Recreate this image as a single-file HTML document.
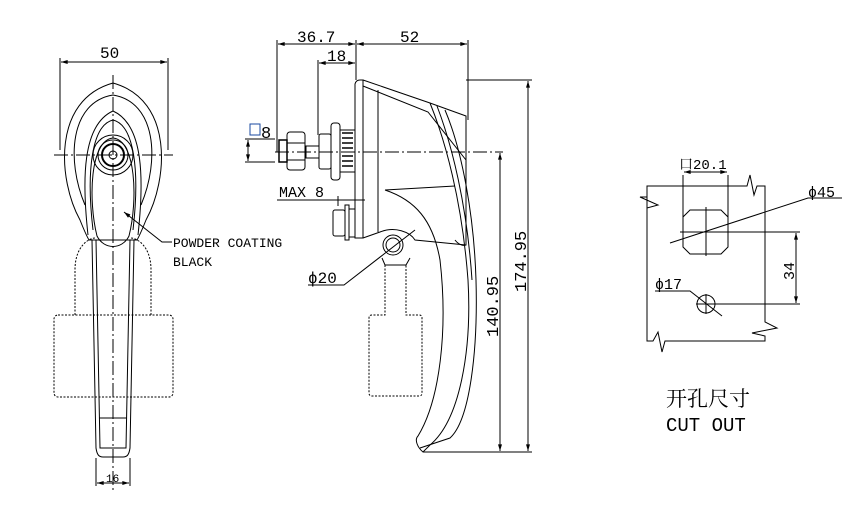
<!DOCTYPE html>
<html><head><meta charset="utf-8"><style>
html,body{margin:0;padding:0;background:#fff}
svg{display:block}
text{font-family:"Liberation Mono","Noto Serif CJK SC",monospace;fill:#000}
</style></head><body>
<svg width="849" height="505" viewBox="0 0 849 505" xmlns="http://www.w3.org/2000/svg">
<defs><marker id="a" viewBox="0 0 10 6" refX="10" refY="3" markerWidth="8" markerHeight="4" orient="auto-start-reverse"><path d="M0,0L10,3L0,6z" fill="#000"/></marker></defs>
<g fill="none" stroke="#000" stroke-width="1">
<!-- LEFT VIEW -->
<line x1="60" y1="58" x2="60" y2="150"/><line x1="168" y1="58" x2="168" y2="150"/>
<line x1="61" y1="62" x2="167" y2="62" marker-start="url(#a)" marker-end="url(#a)"/>
<path d="M80,220 C58,180 52,100 113,83 C174,100 168,180 146,220 C142,230 140,235 137,240 L89,240 C86,235 84,230 80,220Z"/>
<path d="M85,205 C66,160 70,102 113,95 C156,102 160,160 141,205"/>
<path d="M88,235 C82,180 82,125 113,111 C144,125 144,180 138,235"/>
<path d="M93,230 C86,170 92,125 113,120 C134,125 140,170 133,230"/>
<path d="M97,236 C88,200 90,140 113,138 C136,140 138,200 129,236 C122,250 104,250 97,236Z"/>
<circle cx="113" cy="155" r="20"/><circle cx="113" cy="155" r="15"/><circle cx="113" cy="155" r="11" stroke-width="2"/><circle cx="113" cy="155" r="4"/>
<path d="M92,240 L96,448 C97,455 99,457 103,457 L123,457 C127,457 129,455 130,448 L134,240"/>
<path d="M96,240 L100,448 L126,448 L130,240"/>
<line x1="99" y1="418" x2="127" y2="418"/>
<path d="M75,315 L75,270 C75,245 90,238 95,238 M151,315 L151,270 C151,245 136,238 131,238" stroke-dasharray="2,1.5"/>
<rect x="54" y="315" width="119" height="82" rx="4" stroke-dasharray="2,1.5"/>
<line x1="54" y1="155" x2="173" y2="155" stroke-dasharray="14,3,2,3"/>
<line x1="113" y1="75" x2="113" y2="490" stroke-dasharray="14,3,2,3"/>
<line x1="96" y1="458" x2="96" y2="486"/><line x1="130" y1="458" x2="130" y2="486"/>
<line x1="97" y1="483" x2="129" y2="483" marker-start="url(#a)" marker-end="url(#a)"/>
<path d="M124,212 L162,242 L172,242" marker-start="url(#a)"/>
<!-- MIDDLE VIEW -->
<line x1="277" y1="40" x2="277" y2="152"/><line x1="356" y1="40" x2="356" y2="80"/><line x1="468" y1="40" x2="468" y2="120"/>
<line x1="278" y1="44" x2="355" y2="44" marker-start="url(#a)" marker-end="url(#a)"/>
<line x1="357" y1="44" x2="467" y2="44" marker-start="url(#a)" marker-end="url(#a)"/>
<line x1="318" y1="60" x2="318" y2="135"/>
<line x1="319" y1="63" x2="355" y2="63" marker-start="url(#a)" marker-end="url(#a)"/>
<path d="M355,238 L355,84 Q356,80 360,80 L363,80 L363,238 Z"/>
<path d="M363,80 L430,103 L466,116 L466,245 C460,247 455,240 455,240"/>
<line x1="378" y1="90" x2="378" y2="232"/>
<path d="M363,86 L428,112 L466,160"/>
<path d="M430,103 C445,140 462,200 468,280 C472,350 460,420 430,445 L423,452 C418,448 414,440 418,436 C440,400 448,330 440,260 C433,220 415,200 385,190"/>
<path d="M437,106 C452,145 467,205 472,280"/>
<path d="M385,190 L455,186"/>
<path d="M363,238 L380,232 C395,226 410,232 415,240 L466,245"/>
<path d="M420,448 L450,438 C470,420 478,350 476,280 C474,215 462,150 445,110"/>
<circle cx="393" cy="245" r="10"/><circle cx="393" cy="245" r="7"/>
<path d="M382,258 L385,265 L406,265 L410,258"/>
<path d="M385,265 L385,315 L372,315 Q369,315 369,318 L369,393 Q369,396 372,396 L419,396 Q422,396 422,393 L422,318 Q422,315 419,315 L406,315 L406,265" stroke-dasharray="2,1.5"/>
<rect x="331" y="123" width="9" height="57" rx="3"/>
<rect x="340" y="130" width="15" height="42"/>
<path d="M342,133 L353,133 M342,138 L353,138 M342,143 L353,143 M342,148 L353,148 M342,156 L353,156 M342,161 L353,161 M342,166 L353,166" stroke-width="1.5"/>
<rect x="319" y="134" width="12" height="35" rx="2"/>
<rect x="306" y="146" width="13" height="12"/>
<rect x="287" y="132" width="18" height="38" rx="3"/>
<line x1="287" y1="143" x2="305" y2="143"/><line x1="287" y1="160" x2="305" y2="160"/>
<rect x="279" y="140" width="8" height="22" stroke-width="1.5"/>
<rect x="333" y="210" width="12" height="26" rx="2"/><rect x="345" y="205" width="4" height="35"/><rect x="349" y="209" width="6" height="28"/>
<line x1="277" y1="200" x2="365" y2="200"/>
<line x1="338" y1="196" x2="338" y2="206"/>
<line x1="275" y1="152" x2="503" y2="152" stroke-dasharray="14,3,2,3"/>
<line x1="245" y1="139" x2="275" y2="139"/><line x1="245" y1="162" x2="275" y2="162"/>
<line x1="248" y1="140" x2="248" y2="161" marker-start="url(#a)" marker-end="url(#a)"/>
<line x1="423" y1="452" x2="532" y2="452"/>
<line x1="466" y1="80" x2="532" y2="80"/>
<line x1="500" y1="153" x2="500" y2="451" marker-start="url(#a)" marker-end="url(#a)"/>
<line x1="528" y1="81" x2="528" y2="451" marker-start="url(#a)" marker-end="url(#a)"/>
<path d="M308,285 L344,285 L415,230"/>
<!-- CUTOUT -->
<path d="M647,186 L747,186 L750,175 L754,195 L757,186 L765,186 L765,322 L777,328 L752,333 L765,336 L765,341 L665,341 L662,352 L658,332 L653,341 L647,341 L647,197 L640,197 L658,205 L647,208 Z"/>
<path d="M690,210 L721,210 L728,217 L728,247 L721,254 L690,254 L683,247 L683,217 Z"/>
<line x1="683" y1="175" x2="683" y2="232"/><line x1="728" y1="175" x2="728" y2="232"/>
<line x1="684" y1="172" x2="727" y2="172" marker-start="url(#a)" marker-end="url(#a)"/>
<line x1="680" y1="232" x2="800" y2="232"/>
<line x1="706" y1="207" x2="706" y2="256"/>
<path d="M670,243 L808,198 L842,198"/>
<circle cx="706" cy="304" r="9"/>
<line x1="696" y1="304" x2="800" y2="304"/>
<line x1="706" y1="294" x2="706" y2="314"/>
<path d="M655,291 L690,291 L722,316"/>
<line x1="796" y1="233" x2="796" y2="303" marker-start="url(#a)" marker-end="url(#a)"/>
</g>
<g font-size="16">
<text x="100" y="58">50</text>
<text x="106" y="482" font-size="11" fill="#1a3a8a">16</text>
<text x="173" y="247" font-size="13">POWDER COATING</text>
<text x="173" y="266" font-size="13">BLACK</text>
<text x="297" y="42">36.7</text>
<text x="400" y="42">52</text>
<text x="327" y="61">18</text>
<text x="261" y="138" font-size="17">8</text>
<rect x="250" y="124" width="10" height="11" fill="none" stroke="#1a4aa0"/>
<text x="279" y="197" font-size="15">MAX 8</text>
<text x="308" y="283" font-size="16">ϕ20</text>
<text transform="translate(498,337) rotate(-90)" font-size="17">140.95</text>
<text transform="translate(526,292) rotate(-90)" font-size="17">174.95</text>
<text x="679" y="169" font-size="14">口20.1</text>
<text x="808" y="197" font-size="15">ϕ45</text>
<text x="655" y="289" font-size="15">ϕ17</text>
<text transform="translate(794,280) rotate(-90)" font-size="15">34</text>
<text x="666" y="406" font-size="21" font-family="Noto Sans CJK SC, sans-serif">开孔尺寸</text>
<text x="666" y="431" font-size="19">CUT OUT</text>
</g>
</svg>
</body></html>
